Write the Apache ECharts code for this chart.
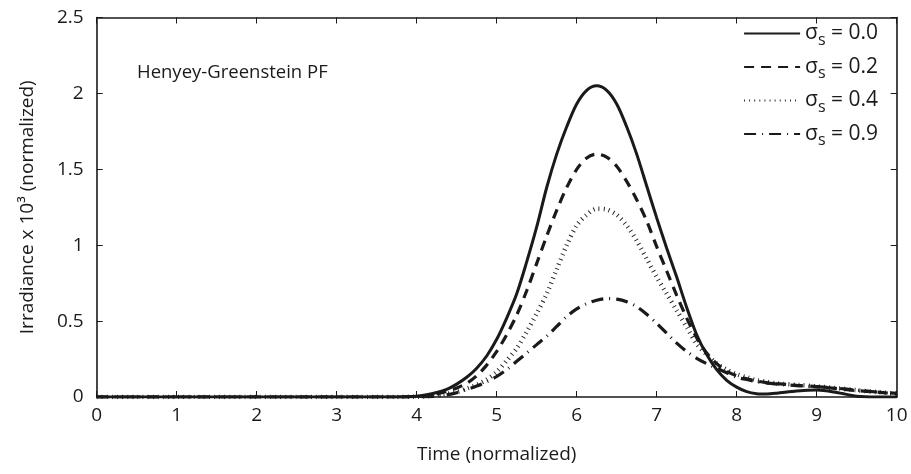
<!DOCTYPE html>
<html><head><meta charset="utf-8">
<script src="https://cdn.jsdelivr.net/npm/echarts@6/dist/echarts.min.js"></script>
<style>html,body{margin:0;padding:0;background:#fff}#c{width:911px;height:474px}</style>
</head><body><div id="c"></div>
<script>
const timeValues = [0,0.25,0.5,0.75,1,1.25,1.5,1.75,2,2.25,2.5,2.75,3,3.25,3.5,3.75,
  4,4.125,4.25,4.375,4.5,4.625,4.75,4.875,5,5.125,5.25,5.375,5.5,5.625,5.75,5.875,
  6,6.125,6.25,6.375,6.5,6.625,6.75,6.875,7,7.125,7.25,7.375,7.5,7.625,7.75,7.875,
  8,8.125,8.25,8.375,8.5,8.75,9,9.25,9.5,9.75,10];
const sigma00 = [0,0,0,0,0,0,0,0,0,0,0,0,0,0,0,0,
  0.005,0.015,0.03,0.05,0.085,0.13,0.19,0.27,0.38,0.52,0.68,0.89,1.12,1.38,1.60,1.78,
  1.93,2.02,2.05,2.02,1.93,1.78,1.60,1.39,1.18,0.98,0.79,0.59,0.41,0.28,0.18,0.11,
  0.065,0.035,0.022,0.02,0.025,0.04,0.046,0.03,0.005,0,0];
const sigma02 = [0,0,0,0,0,0,0,0,0,0,0,0,0,0,0,0,
  0.003,0.01,0.02,0.038,0.06,0.09,0.14,0.21,0.30,0.41,0.54,0.70,0.88,1.06,1.23,1.38,
  1.50,1.575,1.60,1.58,1.52,1.42,1.30,1.16,0.99,0.83,0.67,0.52,0.39,0.29,0.22,0.17,
  0.14,0.12,0.105,0.095,0.088,0.077,0.068,0.055,0.042,0.032,0.022];
const sigma04 = [0,0,0,0,0,0,0,0,0,0,0,0,0,0,0,0,
  0.002,0.005,0.01,0.02,0.033,0.055,0.08,0.115,0.165,0.24,0.32,0.43,0.55,0.68,0.84,1.00,
  1.13,1.20,1.24,1.235,1.20,1.13,1.03,0.91,0.79,0.68,0.57,0.46,0.35,0.28,0.22,0.18,
  0.15,0.13,0.11,0.10,0.09,0.08,0.07,0.058,0.045,0.033,0.022];
const sigma09 = [0,0,0,0,0,0,0,0,0,0,0,0,0,0,0,0,
  0,0.002,0.006,0.014,0.028,0.05,0.072,0.10,0.135,0.18,0.235,0.29,0.345,0.40,0.465,0.53,
  0.58,0.615,0.637,0.648,0.645,0.628,0.595,0.545,0.485,0.42,0.355,0.30,0.255,0.22,0.19,0.16,
  0.13,0.115,0.10,0.092,0.085,0.075,0.068,0.058,0.045,0.033,0.024];
const sigmaLabels = ['0.0','0.2','0.4','0.9'];
const xTicks = [0,1,2,3,4,5,6,7,8,9,10];
const yTicks = [0,0.5,1,1.5,2,2.5];

const FONT = '"Open Sans", "Noto Sans", sans-serif';
const INK = '#1a1a1a';
function pairs(ys){ return timeValues.map((t,i)=>[t, ys[i]]); }
const allSeries = [sigma00, sigma02, sigma04, sigma09];
const styles = [
  {width:3, type:'solid', cap:'butt'},
  {width:3.2, type:[10,7], cap:'butt'},
  {width:4.5, type:[0.9,4.2], cap:'butt'},
  {width:3.2, type:[12,6,1,6], cap:'butt'}
];
const chart = echarts.init(document.getElementById('c'), null, {renderer:'canvas'});
const axisCommon = {
  min:0, axisLine:{show:true, onZero:false, lineStyle:{color:INK, width:1.6}},
  axisTick:{show:true, inside:true, length:6, lineStyle:{color:INK, width:1}},
  splitLine:{show:false}
};
chart.setOption({
  animation:false,
  backgroundColor:'#fff',
  grid:{left:96.7, right:14.3, top:17.5, bottom:77},
  title:{text:'Henyey-Greenstein PF', left:132, top:58, textStyle:{fontFamily:FONT, fontSize:18.5, fontWeight:'normal', color:INK}},
  legend:{
    orient:'vertical', right:28, top:18, itemWidth:56, itemHeight:14, itemGap:8.5,
    itemStyle:{opacity:0},
    data:sigmaLabels.map(s=>'σs = '+s),
    formatter:function(name){ const v=name.split('= ')[1]; return '{m|σ}{sub|s}{m| = '+v+'}'; },
    textStyle:{fontFamily:FONT, color:INK, fontSize:21,
      rich:{m:{fontFamily:FONT, fontSize:21, color:INK}, sub:{fontFamily:FONT, fontSize:16, color:INK, padding:[13,0,0,0]}}}
  },
  xAxis:[
    Object.assign({}, axisCommon, {type:'value', max:10, interval:1, position:'bottom',
      name:'Time (normalized)', nameLocation:'middle', nameGap:48,
      nameTextStyle:{fontFamily:FONT, fontSize:19, color:INK},
      axisLabel:{fontFamily:FONT, fontSize:19, color:INK, margin:9, formatter:v=>xTicks.includes(v)?String(v):''}}),
    Object.assign({}, axisCommon, {type:'value', max:10, interval:1, position:'top', axisLabel:{show:false}})
  ],
  yAxis:[
    Object.assign({}, axisCommon, {type:'value', max:2.5, interval:0.5, position:'left',
      name:'Irradiance x 10³ (normalized)', nameLocation:'middle', nameGap:60,
      nameTextStyle:{fontFamily:FONT, fontSize:19, color:INK},
      axisLabel:{fontFamily:FONT, fontSize:19, color:INK, margin:13, formatter:v=>yTicks.includes(v)?String(v):''}}),
    Object.assign({}, axisCommon, {type:'value', max:2.5, interval:0.5, position:'right', axisLabel:{show:false}})
  ],
  series: allSeries.map((ys,i)=>({
    name:'σs = '+sigmaLabels[i], type:'line', data:pairs(ys), smooth:0.3, symbol:'none',
    xAxisIndex:0, yAxisIndex:0,
    lineStyle:{color:INK, width:styles[i].width, type:styles[i].type, cap:styles[i].cap},
    itemStyle:{color:INK}
  }))
});
</script></body></html>
